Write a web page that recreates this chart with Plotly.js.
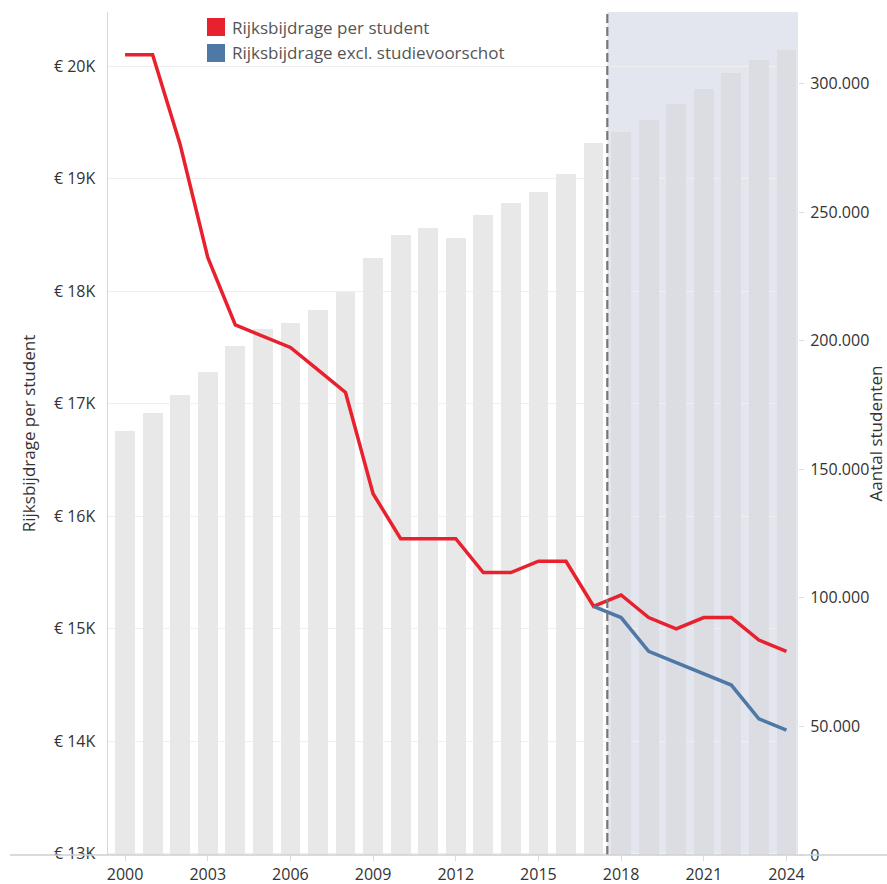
<!DOCTYPE html>
<html>
<head>
<meta charset="utf-8">
<script src="https://cdn.plot.ly/plotly-3.0.1.min.js"></script>
<style>html,body{margin:0;padding:0;background:#fff;}#chart{width:887px;height:884px;}</style>
</head>
<body>
<div id="chart"></div>
<script>
// ---- data ----
var years = [2000,2001,2002,2003,2004,2005,2006,2007,2008,2009,2010,2011,2012,2013,2014,2015,2016,2017,2018,2019,2020,2021,2022,2023,2024];
var students = [165000,172000,179000,188000,198000,204500,207000,212000,219000,232000,241000,244000,240000,249000,253500,258000,265000,277000,281000,286000,292000,298000,304000,309000,313000];
var perStudent = [20100,20100,19300,18300,17700,17600,17500,17300,17100,16200,15800,15800,15800,15500,15500,15600,15600,15200,15300,15100,15000,15100,15100,14900,14800];
var exclYears = [2017,2018,2019,2020,2021,2022,2023,2024];
var exclStudie = [15200,15100,14800,14700,14600,14500,14200,14100];
var xTicks = [2000,2003,2006,2009,2012,2015,2018,2021,2024];
var euroTicks = [13000,14000,15000,16000,17000,18000,19000,20000];
var euroTickText = ['€ 13K','€ 14K','€ 15K','€ 16K','€ 17K','€ 18K','€ 19K','€ 20K'];
var studentTicks = [0,50000,100000,150000,200000,250000,300000];
var forecastStart = 2017.5;
var seriesNames = ['Rijksbijdrage per student','Rijksbijdrage excl. studievoorschot'];

var RED = '#e8212e', BLUE = '#4e79a7';
var barColors = years.map(function(y){ return y > forecastStart ? '#dcdde2' : '#e8e8e8'; });

var traces = [
  {type:'bar', x:years, y:students, width:0.72, marker:{color:barColors}, yaxis:'y', xaxis:'x', showlegend:false, hoverinfo:'x+y'},
  {type:'scatter', mode:'lines', x:years, y:perStudent, yaxis:'y2', line:{color:RED, width:3.5}, name:seriesNames[0], showlegend:false},
  {type:'scatter', mode:'lines', x:exclYears, y:exclStudie, yaxis:'y2', line:{color:BLUE, width:3.5}, name:seriesNames[1], showlegend:false}
];

var W = 887, H = 884, ml = 108, mr = 89, mt = 12, mb = 29;
var pw = W - ml - mr, ph = H - mt - mb;
function px(x){ return (x - ml) / pw; }
function py(y){ return (H - mb - y) / ph; }

var font = 'Open Sans, Noto Sans, sans-serif';
var shapes = [
  {type:'rect', layer:'below', xref:'x', yref:'paper', x0:forecastStart, x1:2024.42, y0:0, y1:1, fillcolor:'#e3e6ef', line:{width:0}},
  {type:'line', layer:'above', xref:'x', yref:'paper', x0:forecastStart, x1:forecastStart, y0:0, y1:1, line:{color:'#777777', width:2.2, dash:'9px,4px'}},
  {type:'line', layer:'above', xref:'paper', yref:'paper', x0:px(10), x1:px(887), y0:0, y1:0, line:{color:'#cfcfcf', width:1.5}},
  {type:'rect', xref:'paper', yref:'paper', x0:px(207), x1:px(225), y0:py(36), y1:py(18), fillcolor:RED, line:{width:0}},
  {type:'rect', xref:'paper', yref:'paper', x0:px(207), x1:px(225), y0:py(62), y1:py(44), fillcolor:BLUE, line:{width:0}}
];
var annotations = [
  {xref:'paper', yref:'paper', x:px(230), y:py(27), xanchor:'left', yanchor:'middle', showarrow:false, text:seriesNames[0], font:{family:font, size:17, color:'#555'}},
  {xref:'paper', yref:'paper', x:px(230), y:py(53), xanchor:'left', yanchor:'middle', showarrow:false, text:seriesNames[1], font:{family:font, size:17, color:'#555'}}
];

var layout = {
  width:W, height:H,
  margin:{l:ml, r:mr, t:mt, b:mb, pad:0},
  paper_bgcolor:'#fff', plot_bgcolor:'#fff',
  separators:',.',
  font:{family:font, color:'#333'},
  bargap:0,
  xaxis:{range:[1999.38,2024.42], tickmode:'array', tickvals:xTicks, showgrid:false, zeroline:false,
         ticks:'outside', ticklen:5, tickcolor:'#dcdcdc', tickfont:{size:16, color:'#333'}, showline:false, fixedrange:true},
  yaxis:{side:'right', range:[0,327800], tickmode:'array', tickvals:studentTicks, tickformat:',d', showgrid:false, zeroline:false,
         ticks:'outside', ticklen:5, tickcolor:'#dddddd', tickfont:{size:16, color:'#333'}, ticklabelstandoff:3,
         title:{text:'Aantal studenten', font:{size:17, color:'#333'}, standoff:22}, automargin:false},
  yaxis2:{overlaying:'y', side:'left', anchor:'x', range:[12990,20480], tickmode:'array', tickvals:euroTicks, ticktext:euroTickText,
          showgrid:true, gridcolor:'#efefef', gridwidth:1, zeroline:false, showline:true, linecolor:'#d6d6d6', linewidth:1.5,
          ticks:'', tickfont:{size:16, color:'#333'}, ticklabelstandoff:8,
          title:{text:'Rijksbijdrage per student', font:{size:17, color:'#333'}, standoff:14}, automargin:false},
  shapes:shapes,
  annotations:annotations,
  showlegend:false
};

Plotly.newPlot('chart', traces, layout, {displayModeBar:false, staticPlot:true});
</script>
</body>
</html>
